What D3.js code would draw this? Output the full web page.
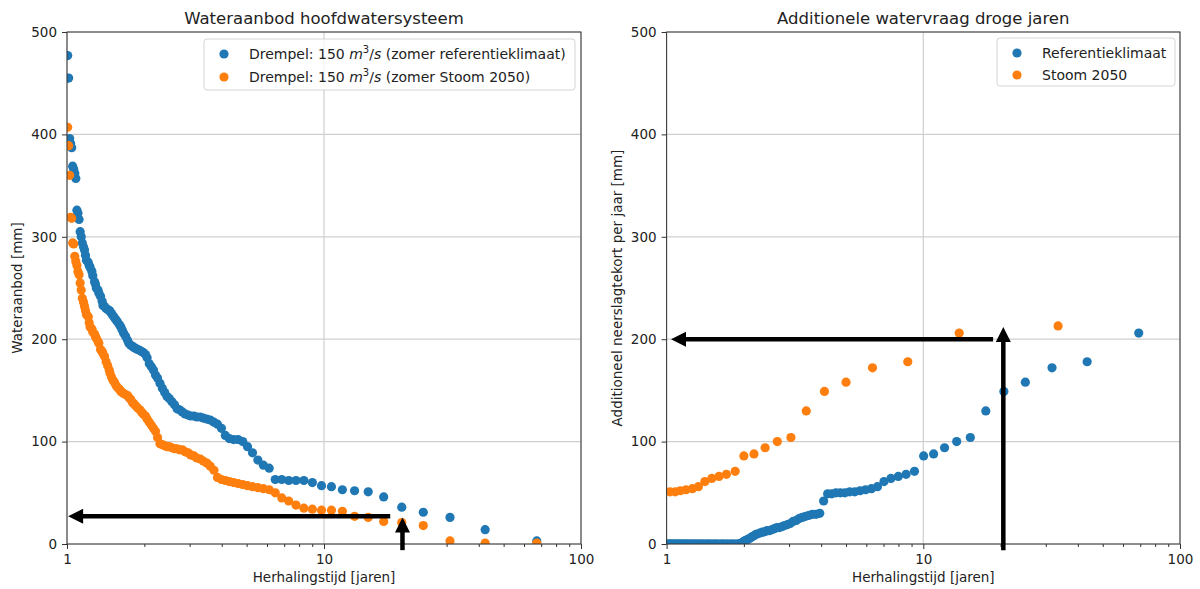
<!DOCTYPE html>
<html>
<head>
<meta charset="utf-8">
<script src="https://cdn.jsdelivr.net/npm/d3@7"></script>
<style>
  body { margin: 0; background: #fff; }
  svg text { font-family: "DejaVu Sans", sans-serif; fill: #222; }
</style>
</head>
<body>
<div id="chart"></div>
<script>
// Herhalingstijden (jaren) linker paneel, rang 2..114
const supplyT = [67.29, 42.37, 30.92, 24.34, 20.07, 17.07, 14.86, 13.15, 11.79, 10.69, 9.78, 9.01, 8.35, 7.78, 7.29, 6.85, 6.46, 6.12, 5.81, 5.53,
  5.27, 5.04, 4.83, 4.63, 4.45, 4.28, 4.13, 3.99, 3.85, 3.73, 3.61, 3.50, 3.39, 3.30, 3.20, 3.12, 3.03, 2.96, 2.88, 2.81,
  2.74, 2.68, 2.62, 2.56, 2.50, 2.45, 2.40, 2.35, 2.30, 2.25, 2.21, 2.17, 2.13, 2.09, 2.05, 2.02, 1.98, 1.95, 1.92, 1.88,
  1.85, 1.82, 1.80, 1.77, 1.74, 1.72, 1.69, 1.66, 1.64, 1.62, 1.60, 1.57, 1.55, 1.53, 1.51, 1.49, 1.47, 1.46, 1.44, 1.42,
  1.40, 1.38, 1.37, 1.35, 1.33, 1.32, 1.30, 1.29, 1.28, 1.26, 1.25, 1.23, 1.22, 1.21, 1.19, 1.18, 1.17, 1.16, 1.147, 1.136,
  1.125, 1.114, 1.103, 1.093, 1.082, 1.072, 1.062, 1.052, 1.043, 1.033, 1.024, 1.015, 1.006];

// Wateraanbod [mm], zomer referentieklimaat
const supplyRef = [3, 14, 26, 31, 36, 46, 51, 52, 53, 56, 57, 60, 62, 62, 62, 63, 63, 74, 77, 82,
  89, 95, 100, 102, 102, 103, 106, 113, 117, 119, 121, 122, 123, 124, 124, 125, 125, 126, 127, 129,
  131, 132, 136, 139, 142, 144, 148, 152, 157, 162, 165, 170, 173, 176, 182, 185, 187, 188, 189, 190,
  191, 192, 193, 194, 196, 199, 203, 206, 209, 212, 214, 217, 219, 221, 223, 225, 227, 228, 229, 230,
  232, 233, 237, 242, 245, 248, 250, 254, 256, 262, 266, 270, 272, 275, 277, 282, 287, 290, 294, 300,
  305, 317, 323, 326, 357, 362, 366, 369, 387, 391, 396, 455, 477];

// Wateraanbod [mm], zomer Stoom 2050
const supplyStoom = [1, 1, 3, 18, 21, 22, 26, 27, 32, 33, 33, 34, 35, 38, 42, 45, 50, 53, 54, 55,
  56, 57, 58, 59, 60, 61, 62, 63, 65, 72, 76, 79, 81, 83, 84, 86, 87, 89, 90, 92,
  92, 93, 93, 94, 95, 95, 96, 97, 98, 104, 110, 113, 116, 119, 122, 125, 127, 129, 131, 133,
  135, 137, 138, 141, 143, 145, 146, 147, 148, 149, 151, 153, 155, 158, 160, 163, 167, 170, 174, 178,
  183, 186, 188, 190, 196, 198, 201, 203, 205, 207, 210, 212, 216, 222, 224, 228, 232, 236, 240, 248,
  255, 263, 266, 272, 276, 281, 293, 294, 318, 319, 360, 389, 407];

// Herhalingstijden (jaren) rechter paneel, referentieklimaat, rang 2..117
const demandRefT = [69.06, 43.48, 31.73, 24.98, 20.60, 17.52, 15.25, 13.49, 12.10, 10.97, 10.03, 9.24, 8.57, 7.99, 7.48, 7.03, 6.63, 6.28, 5.96, 5.67,
  5.41, 5.17, 4.95, 4.75, 4.57, 4.40, 4.24, 4.09, 3.95, 3.82, 3.70, 3.59, 3.48, 3.38, 3.29, 3.20, 3.11, 3.03, 2.96, 2.88,
  2.82, 2.75, 2.69, 2.63, 2.57, 2.51, 2.46, 2.41, 2.36, 2.32, 2.27, 2.23, 2.19, 2.15, 2.11, 2.07, 2.03, 2.00, 1.97, 1.93,
  1.90, 1.87, 1.84, 1.81, 1.79, 1.76, 1.73, 1.71, 1.68, 1.66, 1.64, 1.62, 1.59, 1.57, 1.55, 1.53, 1.51, 1.49, 1.47, 1.45,
  1.44, 1.42, 1.40, 1.38, 1.37, 1.35, 1.34, 1.32, 1.31, 1.29, 1.28, 1.27, 1.25, 1.24, 1.23, 1.21, 1.20, 1.19, 1.178, 1.166,
  1.154, 1.143, 1.132, 1.121, 1.111, 1.100, 1.090, 1.080, 1.070, 1.061, 1.051, 1.042, 1.033, 1.024, 1.015, 1.006];

// Additioneel neerslagtekort [mm], referentieklimaat
const demandRef = [206, 178, 172, 158, 149, 130, 104, 100, 94, 88, 86, 71, 68, 66, 64, 61, 56, 54, 53, 52,
  51, 51, 50, 50, 50, 49, 49, 42, 30, 29, 29, 28, 27, 26, 25, 23, 22, 20, 19, 18,
  17, 16, 16, 15, 14, 13, 13, 12, 11.5, 11, 10, 9.5, 8, 7, 5.5, 4.5, 3.5, 2.5, 1.5, 0.5,
  0, 0, 0, 0, 0, 0, 0, 0, 0, 0, 0, 0, 0, 0, 0, 0, 0, 0, 0, 0,
  0, 0, 0, 0, 0, 0, 0, 0, 0, 0, 0, 0, 0, 0, 0, 0, 0, 0, 0, 0,
  0, 0, 0, 0, 0, 0, 0, 0, 0, 0, 0, 0, 0, 0, 0, 0];

// Stoom 2050
const demandStoomT = [33.5, 13.8, 8.7, 6.34, 5.0, 4.12, 3.5, 3.05, 2.7, 2.42, 2.19, 2.0, 1.85, 1.71, 1.6, 1.5, 1.41, 1.33, 1.26, 1.19, 1.13, 1.08, 1.03];
const demandStoom = [213, 206, 178, 172, 158, 149, 130, 104, 100, 94, 88, 86, 71, 68, 66, 64, 61, 56, 54, 53, 52, 51, 51];

const xTicks = [1, 10, 100];
const xMinorTicks = [2, 3, 4, 5, 6, 7, 8, 9, 20, 30, 40, 50, 60, 70, 80, 90];
const yTicks = [0, 100, 200, 300, 400, 500];

const titles = ["Wateraanbod hoofdwatersysteem", "Additionele watervraag droge jaren"];
const yLabels = ["Wateraanbod [mm]", "Additioneel neerslagtekort per jaar [mm]"];
const xLabel = "Herhalingstijd [jaren]";
const legendSupply = ["zomer referentieklimaat", "zomer Stoom 2050"];
const legendDemand = ["Referentieklimaat", "Stoom 2050"];

// pijlen: [T, waarde] van start naar punt
const supplyArrows = [[[18.1, 27], [1.01, 27]], [[20.2, -6], [20.2, 26]]];
const demandArrows = [[[18.7, 200], [1.04, 200]], [[20.5, -6], [20.5, 212]]];

const BLUE = "#1f77b4", ORANGE = "#ff7f0e";
const width = 1200, height = 589;
const plotTop = 32, plotBottom = 544;

const svg = d3.select("#chart").append("svg")
    .attr("width", width)
    .attr("height", height);

const y = d3.scaleLinear().domain([0, 500]).range([plotBottom, plotTop]);

function drawArrow(g, x, a) {
    const [p0, p1] = a.map(d => [x(d[0]), y(d[1])]);
    const dx = p1[0] - p0[0], dy = p1[1] - p0[1];
    const len = Math.hypot(dx, dy);
    const ux = dx / len, uy = dy / len;
    const headLen = 15, headW = 7.5;
    const bx = p1[0] - ux * headLen, by = p1[1] - uy * headLen;
    g.append("line")
        .attr("x1", p0[0]).attr("y1", p0[1])
        .attr("x2", bx + ux).attr("y2", by + uy)
        .attr("stroke", "#000").attr("stroke-width", 4.5);
    g.append("path")
        .attr("d", `M${p1[0]},${p1[1]}L${bx - uy * headW},${by + ux * headW}L${bx + uy * headW},${by - ux * headW}Z`)
        .attr("fill", "#000");
}

function drawPanel(p, idx) {
    const x = d3.scaleLog().domain([1, 100]).range([p.x0, p.x1]);
    const g = svg.append("g");

    // grid
    g.append("g").selectAll("line").data(xTicks).join("line")
        .attr("x1", d => x(d)).attr("x2", d => x(d))
        .attr("y1", plotTop).attr("y2", plotBottom)
        .attr("stroke", "#cfcfcf").attr("stroke-width", 1.2);
    g.append("g").selectAll("line").data(yTicks).join("line")
        .attr("x1", p.x0).attr("x2", p.x1)
        .attr("y1", d => y(d)).attr("y2", d => y(d))
        .attr("stroke", "#cfcfcf").attr("stroke-width", 1.2);

    // punten
    svg.append("clipPath").attr("id", "clip" + idx)
        .append("rect")
        .attr("x", p.x0).attr("y", plotTop)
        .attr("width", p.x1 - p.x0).attr("height", plotBottom - plotTop);
    const pts = g.append("g").attr("clip-path", `url(#clip${idx})`);
    p.series.forEach(s => {
        pts.append("g").selectAll("circle")
            .data(d3.zip(s.t, s.v))
            .join("circle")
            .attr("cx", d => x(d[0]))
            .attr("cy", d => y(d[1]))
            .attr("r", 4.6)
            .attr("fill", s.color);
    });

    // assen
    g.append("g")
        .attr("transform", `translate(0,${plotBottom})`)
        .call(d3.axisBottom(x).tickValues(xTicks).tickFormat(d3.format("d")).tickSize(5).tickPadding(5));
    g.append("g")
        .attr("transform", `translate(0,${plotBottom})`)
        .call(d3.axisBottom(x).tickValues(xMinorTicks).tickFormat("").tickSize(3));
    g.append("g")
        .attr("transform", `translate(${p.x0},0)`)
        .call(d3.axisLeft(y).tickValues(yTicks).tickSize(5).tickPadding(5));
    g.selectAll(".domain").remove();
    g.selectAll(".tick line").attr("stroke", "#333");
    g.selectAll(".tick text").attr("font-size", "13.5px").attr("fill", "#222")
        .attr("font-family", "DejaVu Sans, sans-serif");

    g.append("rect")
        .attr("x", p.x0).attr("y", plotTop)
        .attr("width", p.x1 - p.x0).attr("height", plotBottom - plotTop)
        .attr("fill", "none").attr("stroke", "#333").attr("stroke-width", 1);

    // titels en labels
    g.append("text")
        .attr("x", (p.x0 + p.x1) / 2).attr("y", 24)
        .attr("text-anchor", "middle").attr("font-size", "16.5px")
        .text(titles[idx]);
    g.append("text")
        .attr("x", (p.x0 + p.x1) / 2).attr("y", 582)
        .attr("text-anchor", "middle").attr("font-size", "13.5px")
        .text(xLabel);
    g.append("text")
        .attr("transform", `translate(${p.x0 - 45},${(plotTop + plotBottom) / 2}) rotate(-90)`)
        .attr("text-anchor", "middle").attr("font-size", "13.5px")
        .text(yLabels[idx]);

    // legenda
    const lg = g.append("g");
    lg.append("rect")
        .attr("x", p.legend.x).attr("y", p.legend.y)
        .attr("width", p.legend.w).attr("height", p.legend.h)
        .attr("rx", 3)
        .attr("fill", "#fff").attr("fill-opacity", 0.8)
        .attr("stroke", "#d5d5d5");
    p.series.forEach((s, i) => {
        const cy = p.legend.y + 15 + i * p.legend.step;
        lg.append("circle")
            .attr("cx", p.legend.x + 20).attr("cy", cy)
            .attr("r", 4.6).attr("fill", s.color);
        const t = lg.append("text")
            .attr("x", p.legend.x + 45).attr("y", cy + 5)
            .attr("font-size", "14px");
        s.label(t);
    });

    // pijlen
    p.arrows.forEach(a => drawArrow(g, x, a));
}

const mathLabel = txt => t => {
    t.append("tspan").text("Drempel: 150 ");
    t.append("tspan").attr("font-style", "italic").text("m");
    t.append("tspan").attr("font-size", "10px").attr("dy", -6).text("3");
    t.append("tspan").attr("dy", 6).text("/");
    t.append("tspan").attr("font-style", "italic").text("s");
    t.append("tspan").text(` (${txt})`);
};
const plainLabel = txt => t => t.text(txt);

drawPanel({
    x0: 67, x1: 581,
    series: [
        { t: supplyT, v: supplyRef, color: BLUE, label: mathLabel(legendSupply[0]) },
        { t: supplyT, v: supplyStoom, color: ORANGE, label: mathLabel(legendSupply[1]) }
    ],
    legend: { x: 204, y: 39, w: 371, h: 51, step: 23 },
    arrows: supplyArrows
}, 0);

drawPanel({
    x0: 666.6, x1: 1180,
    series: [
        { t: demandRefT, v: demandRef, color: BLUE, label: plainLabel(legendDemand[0]) },
        { t: demandStoomT, v: demandStoom, color: ORANGE, label: plainLabel(legendDemand[1]) }
    ],
    legend: { x: 997, y: 38, w: 178, h: 48, step: 22 },
    arrows: demandArrows
}, 1);
</script>
</body>
</html>
